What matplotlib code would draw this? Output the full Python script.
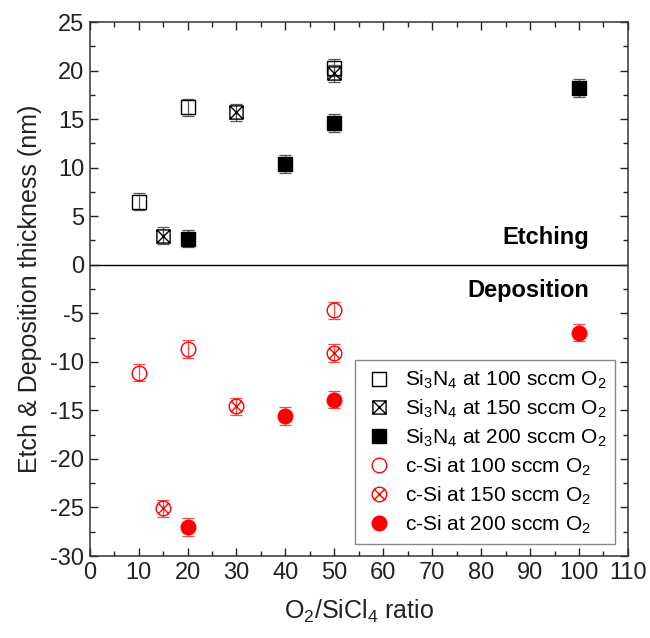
import numpy as np
import matplotlib
matplotlib.use("Agg")
import matplotlib.pyplot as plt
from matplotlib.path import Path
from matplotlib.ticker import MultipleLocator

plt.rcParams['font.family'] = ['Liberation Sans', 'DejaVu Sans']
plt.rcParams['mathtext.fontset'] = 'custom'
plt.rcParams['mathtext.rm'] = 'Liberation Sans'
plt.rcParams['axes.unicode_minus'] = False

# Si3N4 etch (positive) and c-Si deposition (negative) thickness, nm
sin100_x = [10, 20, 50]
sin100_y = [6.5, 16.2, 20.3]
sin150_x = [15, 30, 50]
sin150_y = [3.0, 15.7, 19.7]
sin200_x = [20, 40, 50, 100]
sin200_y = [2.7, 10.4, 14.6, 18.2]
csi100_x = [10, 20, 50]
csi100_y = [-11.1, -8.7, -4.7]
csi150_x = [15, 30, 50]
csi150_y = [-25.1, -14.6, -9.1]
csi200_x = [20, 40, 50, 100]
csi200_y = [-27.0, -15.6, -13.9, -7.0]
err = 0.9

# square / circle with a cross inside
sq = Path.unit_rectangle().transformed(matplotlib.transforms.Affine2D().translate(-0.5, -0.5))
diag_sq = Path([(-0.5, -0.5), (0.5, 0.5), (-0.5, 0.5), (0.5, -0.5)],
               [Path.MOVETO, Path.LINETO, Path.MOVETO, Path.LINETO])
xsquare = Path.make_compound_path(sq, diag_sq)
c = 0.7071
diag_ci = Path([(-c, -c), (c, c), (-c, c), (c, -c)],
               [Path.MOVETO, Path.LINETO, Path.MOVETO, Path.LINETO])
xcircle = Path.make_compound_path(Path.unit_circle(), diag_ci)

fig = plt.figure(figsize=(6.5, 6.38), dpi=100)
ax = fig.add_axes([0.138, 0.1285, 0.828, 0.837])

series = [
    (sin100_x, sin100_y, 's', 'none', 'black', 'Si$_3$N$_4$ at 100 sccm O$_2$', 9.5),
    (sin150_x, sin150_y, xsquare, 'none', 'black', 'Si$_3$N$_4$ at 150 sccm O$_2$', 9.5),
    (sin200_x, sin200_y, 's', 'black', 'black', 'Si$_3$N$_4$ at 200 sccm O$_2$', 9.5),
    (csi100_x, csi100_y, 'o', 'none', 'red', 'c-Si at 100 sccm O$_2$', 10.5),
    (csi150_x, csi150_y, xcircle, 'none', 'red', 'c-Si at 150 sccm O$_2$', 10.5),
    (csi200_x, csi200_y, 'o', 'red', 'red', 'c-Si at 200 sccm O$_2$', 10.5),
]
for x, y, m, fc, ec, lab, ms in series:
    ecol = '#555555' if ec == 'black' else '#ff4444'
    ax.errorbar(x, y, yerr=err, fmt='none', ecolor=ecol, elinewidth=0.9,
                capsize=4, capthick=0.9, zorder=2)
    ax.plot(x, y, linestyle='none', marker=m, markersize=ms,
            markerfacecolor=fc, markeredgecolor=ec, markeredgewidth=1.0,
            label=lab, zorder=3)

ax.axhline(0, color='black', linewidth=1.0, zorder=1)

ax.set_xlim(0, 110)
ax.set_ylim(-30, 25)
ax.xaxis.set_major_locator(MultipleLocator(10))
ax.xaxis.set_minor_locator(MultipleLocator(5))
ax.yaxis.set_major_locator(MultipleLocator(5))
ax.yaxis.set_minor_locator(MultipleLocator(2.5))
ax.tick_params(which='both', direction='in', top=True, right=True,
               labelsize=17, width=1.0, colors='#222222')
ax.tick_params(which='major', length=6, pad=4)
ax.tick_params(which='minor', length=3.5)
for s in ax.spines.values():
    s.set_linewidth(1.1)
    s.set_color('#333333')

ax.set_xlabel('O$_2$/SiCl$_4$ ratio', fontsize=18, labelpad=10, color='#222222')
ax.set_ylabel('Etch & Deposition thickness (nm)', fontsize=18, labelpad=6, color='#222222')

ax.text(102, 2.8, 'Etching', fontsize=17, fontweight='bold', ha='right', va='center')
ax.text(102, -2.7, 'Deposition', fontsize=17, fontweight='bold', ha='right', va='center')

ax.legend(loc='lower right', bbox_to_anchor=(0.995, 0.003), fontsize=15,
          frameon=True, fancybox=False, edgecolor='#888888', framealpha=1,
          handletextpad=0.5, labelspacing=0.3, borderpad=0.4, handlelength=1.5)

plt.savefig("out.png", dpi=100)
plt.close()
